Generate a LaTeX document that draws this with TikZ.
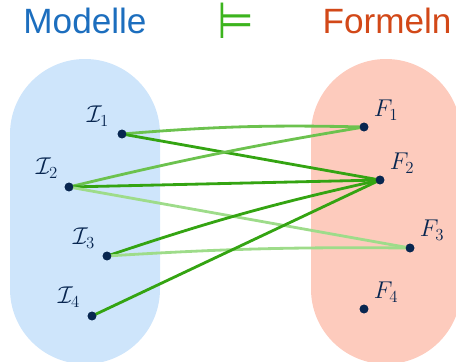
\documentclass[tikz,border=0pt]{standalone}
\usepackage{fontspec}
\usepackage{amsmath}
\usepackage{tikz}
\usetikzlibrary{positioning}
\newfontfamily\titlefont{Liberation Sans}
\newfontfamily\symfont{DejaVu Sans}
\definecolor{modblue}{RGB}{28,110,190}
\definecolor{formred}{RGB}{210,72,24}
\definecolor{entgreen}{RGB}{60,180,30}
\definecolor{dotnavy}{RGB}{8,38,80}
\definecolor{blobblue}{RGB}{206,229,251}
\definecolor{blobred}{RGB}{253,203,189}
\definecolor{gdark}{RGB}{52,164,18}
\definecolor{gmid}{RGB}{108,194,78}
\definecolor{glight}{RGB}{158,220,138}
\tikzset{
  title/.style={font=\titlefont\fontsize{30}{36}\selectfont, inner sep=0pt},
  blob/.style={rounded corners=75*0.3mm, draw=none},
  dot/.style={circle, fill=dotnavy, inner sep=0pt, minimum size=2.6mm},
  lbl/.style={font=\fontsize{20}{24}\selectfont, text=dotnavy, inner sep=0pt},
  strong/.style={line width=2.4pt, color=gdark},
  medium/.style={line width=2.4pt, color=gmid},
  weak/.style={line width=2.4pt, color=glight}
}

\begin{document}
\begin{tikzpicture}[x=0.3mm, y=-0.3mm]
  \useasboundingbox (0,0) rectangle (456,362);
  % titles
  \node[title, text=modblue] (mod) at (85,21) {Modelle};
  \node[inner sep=0pt, text=entgreen, font=\symfont\fontsize{36}{40}\selectfont,
    yscale=1.2] (ent) at (236,21) {⊨};
  \node[title, text=formred] (form) at (387,21) {Formeln};
  % the two sets
  \fill[blob, blobblue] (10,59) rectangle (160,364);
  \fill[blob, blobred] (311,59) rectangle (461,364);
  % elements
  \node[dot] (i1) at (122,134) {};
  \node[dot] (i2) at (69,187) {};
  \node[dot] (i3) at (107,256) {};
  \node[dot] (i4) at (92,316) {};
  \node[dot] (f1) at (364,127) {};
  \node[dot] (f2) at (380,180) {};
  \node[dot] (f3) at (410,248) {};
  \node[dot] (f4) at (364,309) {};
  \node[lbl] (li1) at (98,116) {$\mathcal{I}_1$};
  \node[lbl] (li2) at (47,168) {$\mathcal{I}_2$};
  \node[lbl] (li3) at (84,238) {$\mathcal{I}_3$};
  \node[lbl] (li4) at (69,297) {$\mathcal{I}_4$};
  \node[lbl] (lf1) at (386,110) {$F_1$};
  \node[lbl] (lf2) at (402,163) {$F_2$};
  \node[lbl] (lf3) at (432,230) {$F_3$};
  \node[lbl] (lf4) at (386,292) {$F_4$};
  % models |= formulas
  \draw[medium] (i1.center) to[bend left=3] (f1.center);
  \draw[strong] (i1.center) -- (f2.center);
  \draw[medium] (i2.center) to[bend left=2] (f1.center);
  \draw[strong] (i2.center) -- (f2.center);
  \draw[weak] (i2.center) -- (f3.center);
  \draw[strong] (i3.center) to[bend left=3] (f2.center);
  \draw[weak] (i3.center) to[bend left=2] (f3.center);
  \draw[strong] (i4.center) -- (f2.center);
  % dots on top
  \foreach \p in {i1,i2,i3,i4,f1,f2,f3,f4}
    \fill[dotnavy] (\p) circle (1.3mm);
\end{tikzpicture}
\end{document}
